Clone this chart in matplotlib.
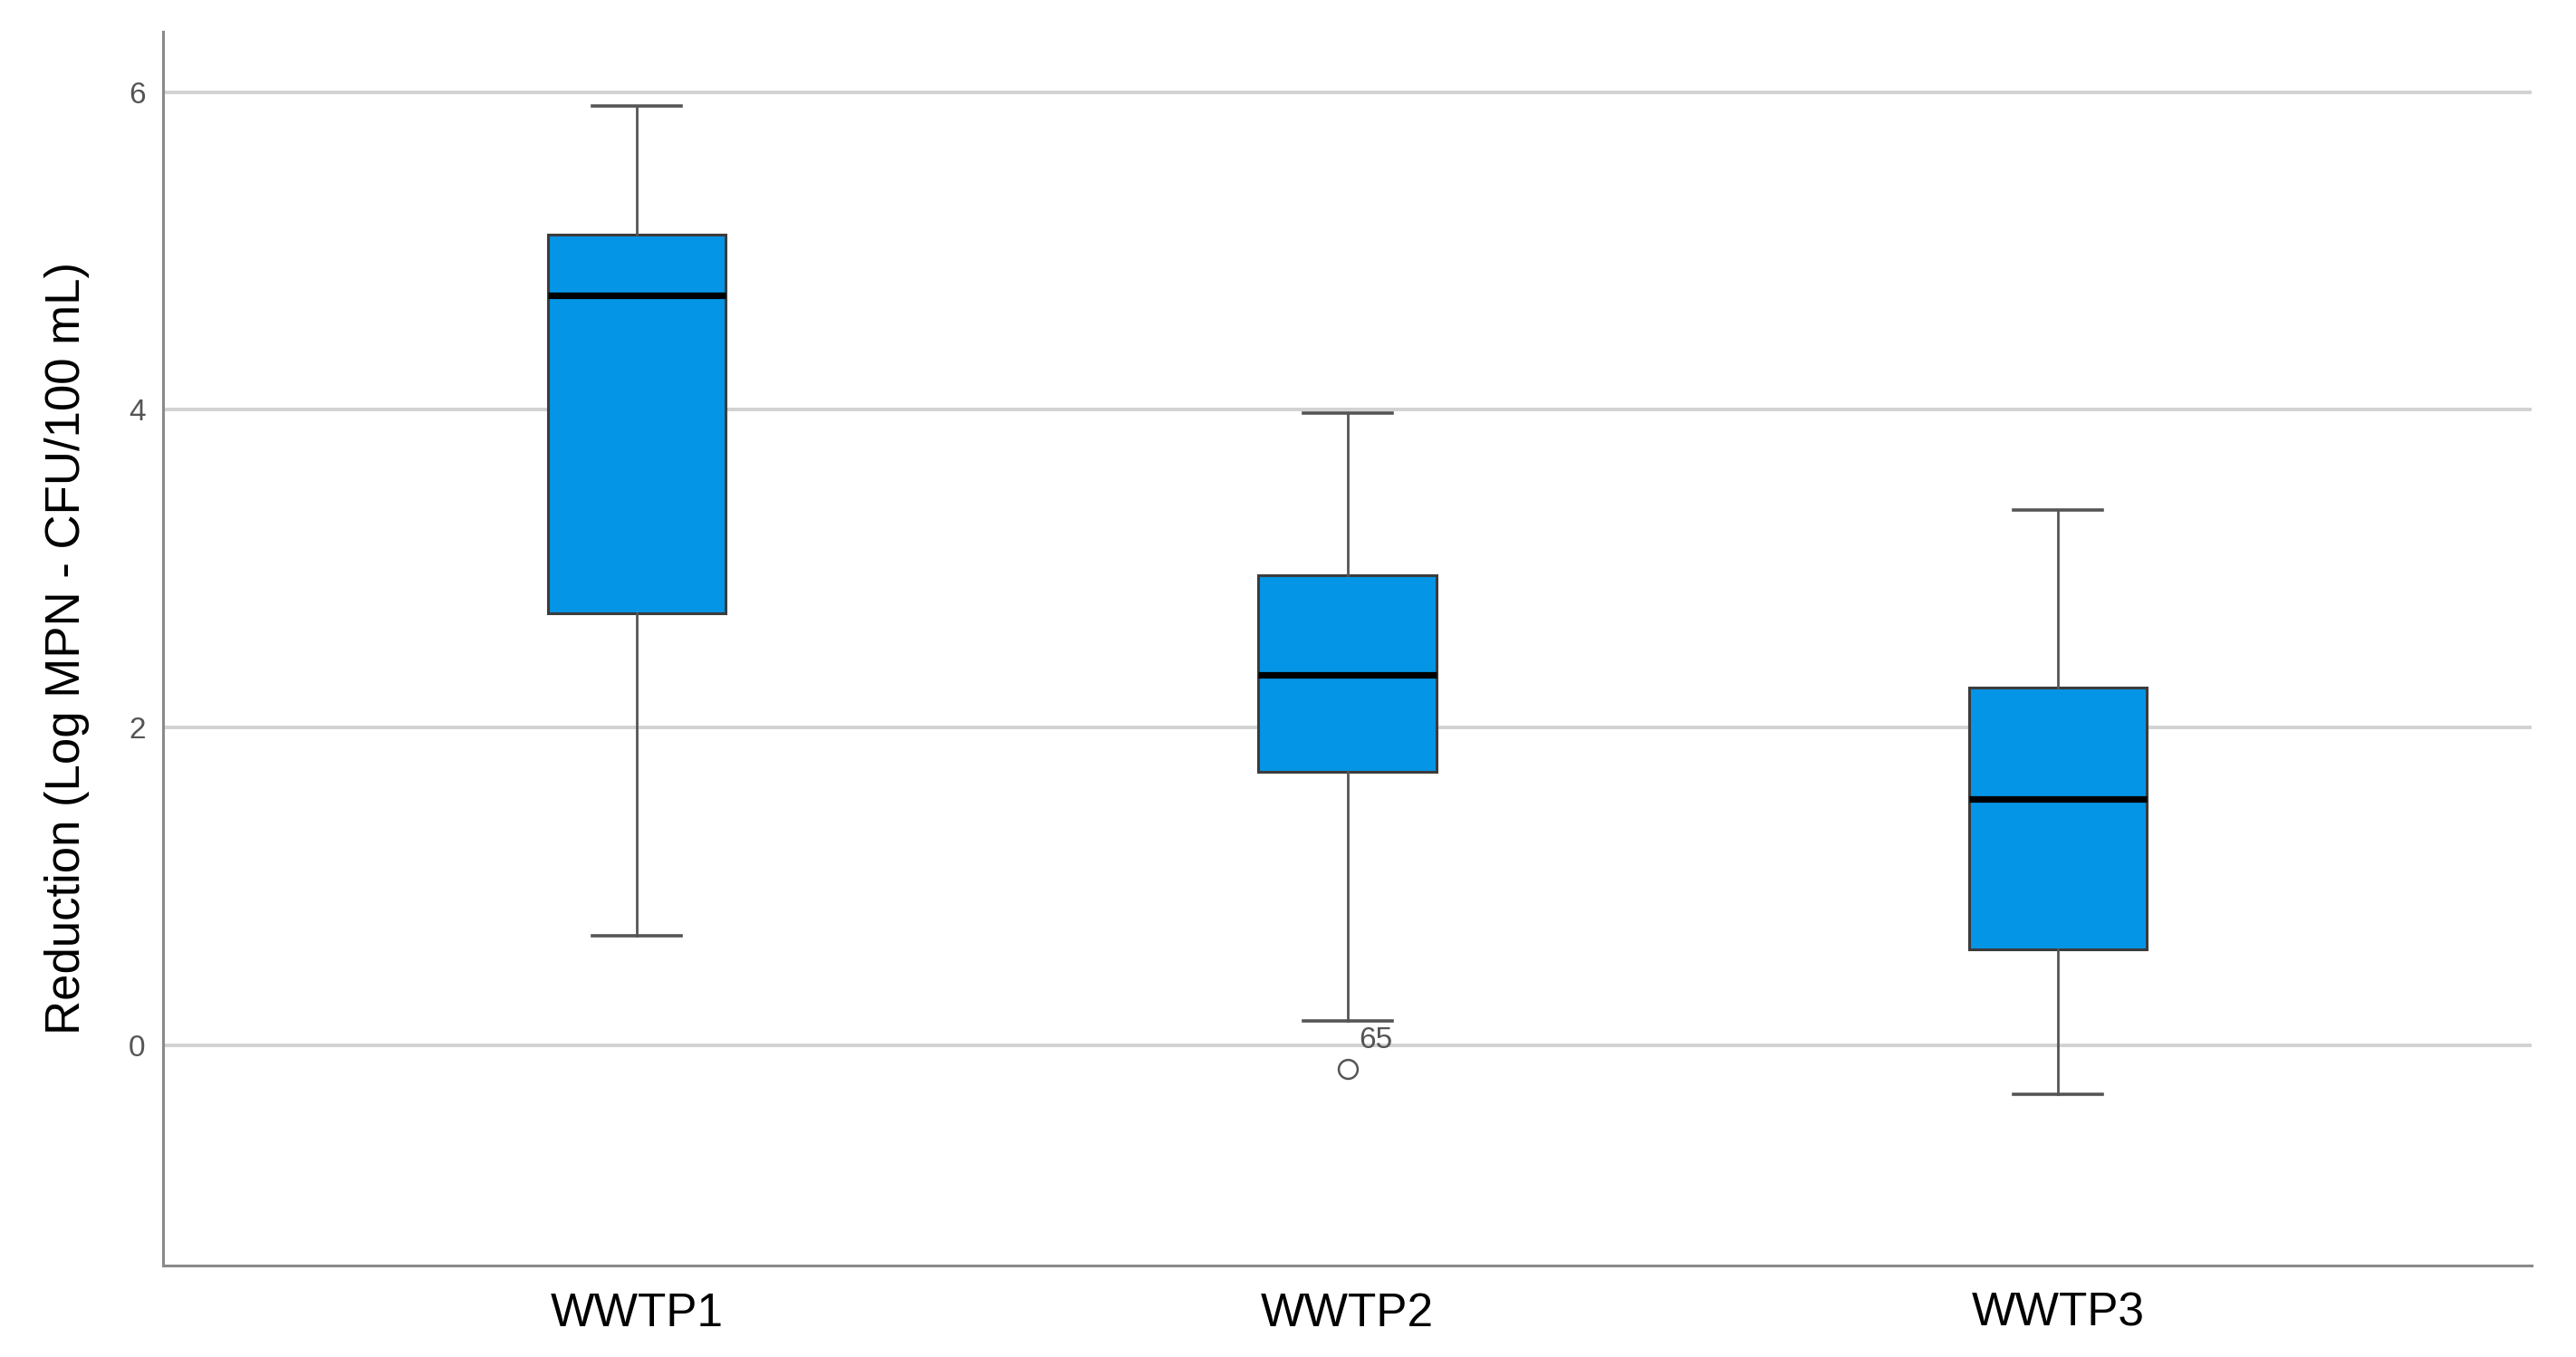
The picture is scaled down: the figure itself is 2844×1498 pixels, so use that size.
import matplotlib
matplotlib.use('Agg')
import matplotlib.pyplot as plt

# box summary (Log reduction)
plants = ["WWTP1", "WWTP2", "WWTP3"]
whisker_low = [0.69, 0.15, -0.31]
q1 = [2.72, 1.72, 0.60]
medians = [4.72, 2.33, 1.55]
q3 = [5.10, 2.96, 2.25]
whisker_high = [5.91, 3.98, 3.37]
outliers = [[], [-0.15], []]
outlier_ids = [[], ["65"], []]
y_ticks = [0, 2, 4, 6]

plt.rcParams['font.family'] = ['Liberation Sans', 'DejaVu Sans']

fig = plt.figure(figsize=(28.44, 14.98), dpi=100)
ax = fig.add_axes([0.0633, 0.0677, 0.9195, 0.909])

stats = []
for i in range(len(plants)):
    stats.append({
        "label": plants[i],
        "whislo": whisker_low[i],
        "q1": q1[i],
        "med": medians[i],
        "q3": q3[i],
        "whishi": whisker_high[i],
        "fliers": outliers[i],
    })

positions = list(range(len(plants)))
ax.bxp(stats, positions=positions, widths=0.25, capwidths=0.125,
       patch_artist=True, zorder=3,
       boxprops=dict(facecolor='#0595e6', edgecolor='#3c3c3c', linewidth=2.2),
       whiskerprops=dict(color='#555555', linewidth=2.0),
       capprops=dict(color='#555555', linewidth=2.6),
       medianprops=dict(color='black', linewidth=5.2, solid_capstyle='butt'),
       flierprops=dict(marker='o', markersize=15, markerfacecolor='none',
                       markeredgecolor='#555555', markeredgewidth=1.8))

# case number next to the outlier
for i in range(len(plants)):
    for val, lab in zip(outliers[i], outlier_ids[i]):
        ax.annotate(lab, (positions[i], val), xytext=(9.5, 16.5),
                    textcoords='offset points', ha='left', va='baseline',
                    fontsize=24, color='#555555')

ax.set_xlim(-2/3, 8/3)
ax.set_ylim(-1.385, 6.38)
ax.set_yticks(y_ticks)
ax.set_yticklabels([str(t) for t in y_ticks])
ax.set_xticks(positions)
ax.set_xticklabels(plants)

ax.yaxis.grid(True, color='#d2d2d2', linewidth=2.8, zorder=0)
ax.set_axisbelow(True)

for side in ['top', 'right']:
    ax.spines[side].set_visible(False)
for side in ['left', 'bottom']:
    ax.spines[side].set_color('#8a8a8a')
    ax.spines[side].set_linewidth(2.2)

ax.tick_params(axis='y', length=0, pad=14, labelsize=24, labelcolor='#555555')
ax.tick_params(axis='x', length=0, pad=21, labelsize=37, labelcolor='black')

fig.text(88/2844, 1 - 716/1498, "Reduction (Log MPN - CFU/100 mL)",
         rotation=90, ha='center', va='baseline', rotation_mode='anchor',
         fontsize=38, color='black')

fig.savefig("out.png", dpi=100, facecolor='white')
